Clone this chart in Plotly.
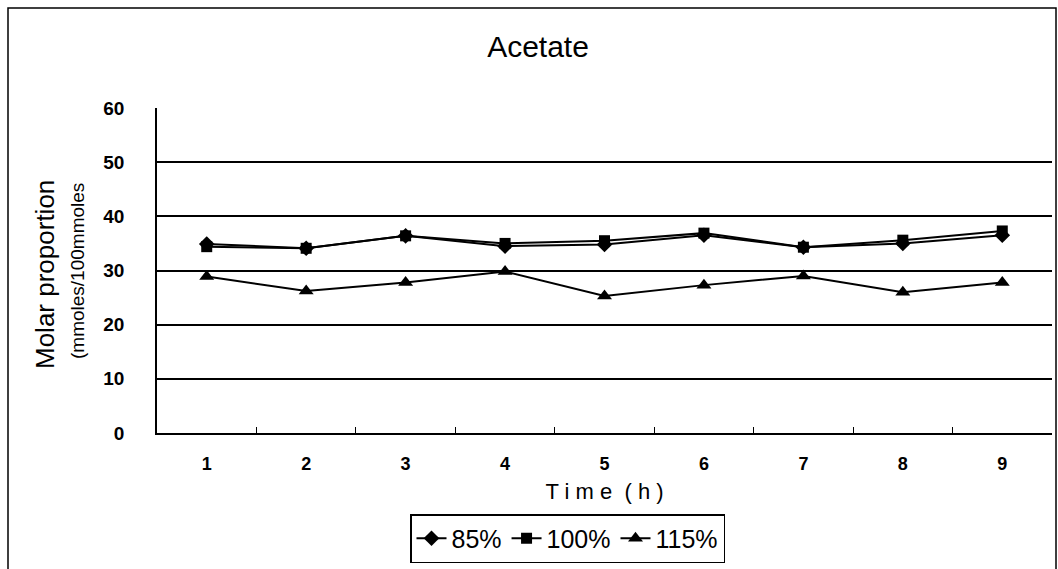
import plotly.graph_objects as go

# Sampling times (h) and molar proportion of acetate per feeding level
times = ["1", "2", "3", "4", "5", "6", "7", "8", "9"]
acetate_85 = [34.9, 34.1, 36.4, 34.5, 34.8, 36.5, 34.3, 35.0, 36.5]
acetate_100 = [34.4, 34.1, 36.4, 35.0, 35.5, 36.9, 34.3, 35.6, 37.3]
acetate_115 = [28.9, 26.2, 27.8, 29.8, 25.3, 27.3, 29.0, 26.0, 27.8]

series_names = ["85%", "100%", "115%"]
y_ticks = [0, 10, 20, 30, 40, 50, 60]

W, H = 1058, 569
L, R, T, B = 157, 6, 108, 136

fig = go.Figure()
for name, vals, sym, size in [
    (series_names[0], acetate_85, "diamond", 12),
    (series_names[1], acetate_100, "square", 11),
    (series_names[2], acetate_115, "triangle-up", 13),
]:
    fig.add_trace(go.Scatter(
        x=times, y=vals, name=name, mode="lines+markers",
        line=dict(color="black", width=2),
        marker=dict(symbol=sym, size=size, color="black"),
    ))

pw = W - L - R
ph = H - T - B

def px_x(p):
    return (p - L) / pw

def px_y(p):
    return 1 - (p - T) / ph

fig.update_layout(
    width=W, height=H,
    margin=dict(l=L, r=R, t=T, b=B, autoexpand=False),
    paper_bgcolor="white", plot_bgcolor="white",
    font=dict(family="Liberation Sans, Arial, sans-serif", color="black"),
    title=dict(text="Acetate", x=538 / W, xanchor="center",
               y=1 - 46 / H, yanchor="middle",
               font=dict(size=30, color="black")),
    showlegend=True,
    legend=dict(orientation="h", x=px_x(410), xanchor="left",
                y=px_y(514), yanchor="top",
                bordercolor="black", borderwidth=1.5,
                font=dict(size=25), itemwidth=30,
                tracegroupgap=0),
    xaxis=dict(
        type="category", range=[-0.5, 8.5], automargin=False,
        showline=True, linecolor="black", linewidth=1.5,
        ticks="inside", ticklen=6, tickcolor="black", tickwidth=1,
        tickson="boundaries", showgrid=False,
        tickfont=dict(size=18, weight="bold"),
        ticklabelstandoff=14,
        title=dict(text="T i m e  ( h )", font=dict(size=22), standoff=10),
    ),
    yaxis=dict(
        range=[0, 60], tickvals=y_ticks, automargin=False,
        showline=True, linecolor="black", linewidth=1.5,
        showgrid=True, gridcolor="black", gridwidth=1.5,
        zeroline=False, ticks="",
        tickfont=dict(size=19, weight="bold"),
        ticklabelstandoff=27,
    ),
)

# Y axis title on two lines
fig.add_annotation(text="Molar proportion", textangle=-90,
                   xref="paper", yref="paper", x=px_x(45), y=px_y(275),
                   xanchor="center", yanchor="middle",
                   showarrow=False, font=dict(size=26))
fig.add_annotation(text="(mmoles/100mmoles", textangle=-90,
                   xref="paper", yref="paper", x=px_x(77), y=px_y(271),
                   xanchor="center", yanchor="middle",
                   showarrow=False, font=dict(size=19))

# Outer chart frame
fig.add_shape(type="rect", xref="paper", yref="paper",
              x0=px_x(8), x1=px_x(1056), y0=px_y(575), y1=px_y(8),
              line=dict(color="black", width=1.5), layer="below")

fig.write_html("out.html")
